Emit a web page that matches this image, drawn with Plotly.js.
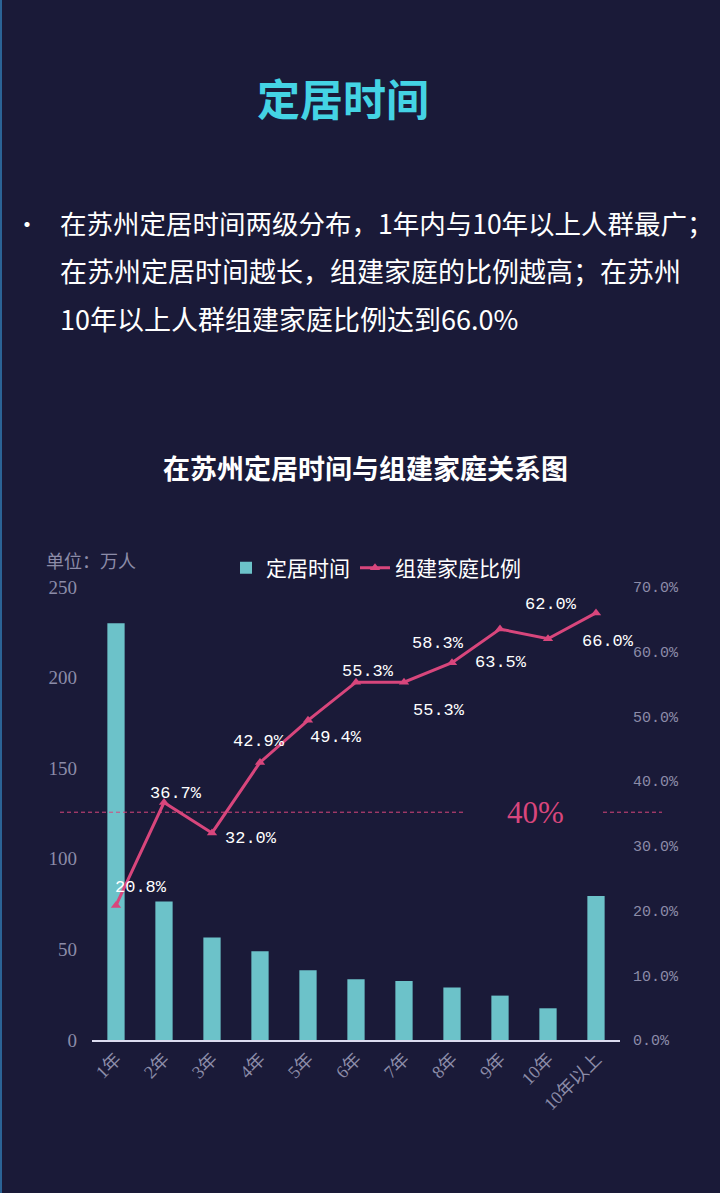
<!DOCTYPE html>
<html>
<head>
<meta charset="utf-8">
<script src="https://cdn.plot.ly/plotly-3.0.1.min.js"></script>
<style>
html,body{margin:0;padding:0;background:#1a1a38;}
#chart{width:720px;height:1193px;}
</style>
</head>
<body>
<div id="chart"></div>
<script>
// ---- data ----
const categories = ['1年','2年','3年','4年','5年','6年','7年','8年','9年','10年','10年以上'];
const residents = [230, 76.5, 56.5, 49, 38.5, 33.5, 32.5, 29, 24.5, 17.5, 79.5];
const familyRatio = [20.8, 36.7, 32.0, 42.9, 49.4, 55.3, 55.3, 58.3, 63.5, 62.0, 66.0];
const leftTicks = [0, 50, 100, 150, 200, 250];
const rightTicks = [0, 10, 20, 30, 40, 50, 60, 70];
const refLineValue = 35.2;
const refLineLabel = '40%';
const pageTitle = '定居时间';
const bulletLines = [
  '在苏州定居时间两级分布，1年内与10年以上人群最广；',
  '在苏州定居时间越长，组建家庭的比例越高；在苏州',
  '10年以上人群组建家庭比例达到66.0%'
];
const chartTitle = '在苏州定居时间与组建家庭关系图';
const unitLabel = '单位：万人';

// ---- styling: label offsets in pixels (dx, dy) ----
const labelShift = [[25,-18],[12,-9],[39,6],[-1,-21],[28,17],[12,-11],[35,28],[-14,-19],[1,33],[3,-34],[12,29]];

// ---- layout helpers (pixel -> paper) ----
const L = 92, R = 620, T = 587, B = 1040;
const px = x => (x - L) / (R - L);
const py = y => (B - y) / (B - T);

const pink = '#d8467c';
const teal = '#6cc2c9';
const grey = '#8c8ca8';
const cjk = '"Noto Sans CJK SC", "Noto Sans", sans-serif';
const mono = '"Liberation Mono", "DejaVu Sans Mono", monospace';
const serif = '"Liberation Serif", "Noto Sans CJK SC", serif';

const traces = [
  {
    type: 'bar', name: '定居时间', x: categories, y: residents,
    marker: {color: teal}, width: 0.36, yaxis: 'y', hoverinfo: 'skip'
  },
  {
    type: 'scatter', mode: 'lines+markers', name: '组建家庭比例',
    x: categories, y: familyRatio, yaxis: 'y2',
    line: {color: pink, width: 3},
    marker: {symbol: 'triangle-up', size: 9, color: pink},
    cliponaxis: false, hoverinfo: 'skip'
  }
];

const annotations = [
  {xref:'paper', yref:'paper', x: px(343), y: py(97), text: '<b>' + pageTitle + '</b>', showarrow:false,
   font:{family: cjk, size: 43, color:'#44d3e4'}, xanchor:'center', yanchor:'middle'},
  {xref:'paper', yref:'paper', x: px(27), y: py(222), text: '•', showarrow:false,
   font:{family: cjk, size: 24, color:'#ffffff'}, xanchor:'center', yanchor:'middle'},
  {xref:'paper', yref:'paper', x: px(365), y: py(467), text: '<b>' + chartTitle + '</b>', showarrow:false,
   font:{family: cjk, size: 27, color:'#ffffff'}, xanchor:'center', yanchor:'middle'},
  {xref:'paper', yref:'paper', x: px(44), y: py(560), text: unitLabel, showarrow:false,
   font:{family: cjk, size: 18, color: grey}, xanchor:'left', yanchor:'middle'},
  {xref:'paper', yref:'y2', x: px(535), y: refLineValue, text: refLineLabel, showarrow:false,
   font:{family: '"Liberation Serif", serif', size: 31, color: pink}, xanchor:'center', yanchor:'middle'}
];
const lineYs = [222, 270, 318];
bulletLines.forEach((t, i) => annotations.push({
  xref:'paper', yref:'paper', x: px(58), y: py(lineYs[i]), text: t, showarrow:false,
  font:{family: cjk, size: i === 0 ? 26.5 : 27, color:'#ffffff'}, xanchor:'left', yanchor:'middle'
}));
familyRatio.forEach((v, i) => annotations.push({
  xref:'x', yref:'y2', x: categories[i], y: v, text: v.toFixed(1) + '%', showarrow:false,
  xshift: labelShift[i][0], yshift: -labelShift[i][1],
  font:{family: mono, size: 17, color:'#ffffff'}, xanchor:'center', yanchor:'middle'
}));

const layout = {
  width: 720, height: 1193,
  paper_bgcolor: '#1a1a38', plot_bgcolor: '#1a1a38',
  margin: {l: L, r: 720 - R, t: T, b: 1193 - B, pad: 0},
  showlegend: true,
  legend: {orientation: 'h', x: px(226), y: py(568), xanchor: 'left', yanchor: 'middle',
           font: {family: cjk, size: 21, color: '#ffffff'}, bgcolor: 'rgba(0,0,0,0)',
           itemwidth: 30, tracegroupgap: 0},
  xaxis: {type: 'category', range: [-0.5, categories.length - 0.5],
          showline: true, linecolor: '#dcdcf0', linewidth: 1.5,
          showgrid: false, zeroline: false, tickangle: -45, ticks: '',
          tickfont: {family: serif, size: 18, color: grey}, fixedrange: true},
  yaxis: {range: [0, 250], tickvals: leftTicks, showgrid: false, zeroline: false, showline: false,
          ticks: '', ticklabelstandoff: 14,
          tickfont: {family: serif, size: 19, color: grey}},
  yaxis2: {range: [0, 70], tickvals: rightTicks, ticktext: rightTicks.map(v => v.toFixed(1) + '%'),
           overlaying: 'y', side: 'right',
           showgrid: false, zeroline: false, showline: false, ticks: '', ticklabelstandoff: 12,
           tickfont: {family: mono, size: 15, color: grey}},
  annotations: annotations,
  shapes: [
    {type:'line', xref:'paper', yref:'y2', x0: px(60), x1: px(464), y0: refLineValue, y1: refLineValue,
     line:{color: pink, width: 1, dash: '4px,3px'}},
    {type:'line', xref:'paper', yref:'y2', x0: px(603), x1: px(662), y0: refLineValue, y1: refLineValue,
     line:{color: pink, width: 1, dash: '4px,3px'}},
    {type:'line', xref:'paper', yref:'paper', x0: px(1), x1: px(1), y0: py(0), y1: py(1193),
     line:{color:'#2b6396', width: 2}}
  ]
};

Plotly.newPlot('chart', traces, layout, {staticPlot: true, displayModeBar: false});
</script>
</body>
</html>
